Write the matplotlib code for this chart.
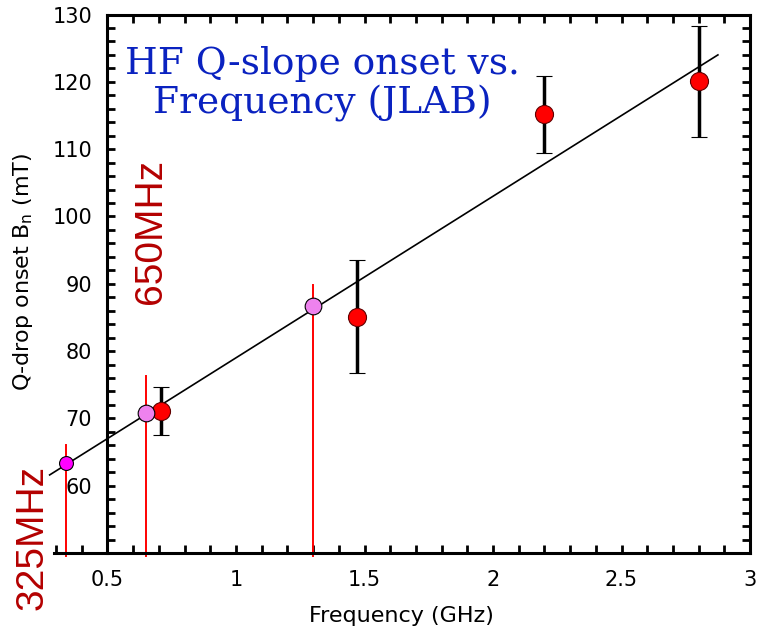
import numpy as np
import matplotlib
matplotlib.use('Agg')
import matplotlib.pyplot as plt
from matplotlib.ticker import MultipleLocator, FixedLocator

# JLAB data points (GHz, mT) with error bars
jlab_freq = [0.71, 1.47, 2.2, 2.8]
jlab_onset = [71.1, 85.1, 115.2, 120.1]
jlab_err_low = [3.6, 8.3, 5.8, 8.3]
jlab_err_high = [3.6, 8.4, 5.7, 8.2]

# projected points on the fit line
proj_freq = [0.65, 1.3]
proj_onset = [70.8, 86.7]
low_freq = [0.34]
low_onset = [63.3]

# vertical markers for the cavity frequencies
marker_freq = [0.34, 0.65, 1.3]
marker_top = [66.0, 76.3, 89.8]

# linear fit
fit_slope = 24.0
fit_intercept = 55.0
fit_range = [0.275, 2.875]

out_file_name = 'out.png'


def plot_graph():
    fig = plt.figure(figsize=(7.57, 6.31), dpi=100)
    ax = fig.add_axes([0.0639, 0.1236, 0.9269, 0.8534])

    ax.set_xlim(0.27, 3.0)
    ax.set_ylim(50, 130)

    # red vertical lines
    for f, top in zip(marker_freq, marker_top):
        ax.plot([f, f], [49.5, top], color='#ff0000', lw=1.4, zorder=2, clip_on=False)

    # fit line
    fx = np.array(fit_range)
    ax.plot(fx, fit_slope * fx + fit_intercept, color='black', lw=1.2, zorder=3, clip_on=False)

    # measured points
    ax.errorbar(jlab_freq, jlab_onset, yerr=[jlab_err_low, jlab_err_high], fmt='o',
                color='black', ecolor='black', elinewidth=2.5, capsize=6, capthick=2.5,
                markersize=13, markerfacecolor='#ff0000', markeredgecolor='#600000',
                markeredgewidth=0.8, zorder=4)

    ax.plot(proj_freq, proj_onset, 'o', markersize=12, markerfacecolor='#ee82ee',
            markeredgecolor='black', markeredgewidth=0.8, zorder=5)
    ax.plot(low_freq, low_onset, 'o', markersize=10, markerfacecolor='#ff00ff',
            markeredgecolor='black', markeredgewidth=0.8, zorder=5, clip_on=False)

    # spines
    for s in ax.spines.values():
        s.set_linewidth(2.2)
    ax.spines['left'].set_position(('data', 0.5))
    ax.spines['top'].set_bounds(0.5, 3.0)
    ax.spines['bottom'].set_bounds(0.29, 3.0)

    # ticks
    ax.xaxis.set_major_locator(FixedLocator([0.5, 1.0, 1.5, 2.0, 2.5, 3.0]))
    ax.xaxis.set_minor_locator(MultipleLocator(0.1))
    ax.set_xticklabels(['0.5', '1', '1.5', '2', '2.5', '3'])
    ax.yaxis.set_major_locator(FixedLocator(range(60, 131, 10)))
    ax.yaxis.set_minor_locator(MultipleLocator(2))
    ax.tick_params(which='both', direction='in', length=6, width=2, top=False, right=True)
    ax.tick_params(axis='x', which='major', pad=12, labelsize=15)
    ax.tick_params(axis='y', which='major', pad=11, labelsize=15)

    secax = ax.secondary_xaxis('top')
    secax.xaxis.set_major_locator(FixedLocator(np.arange(0.5, 3.01, 0.1)))
    secax.tick_params(direction='in', length=6, width=2, labeltop=False)
    secax.spines['top'].set_visible(False)

    ax.set_xlabel('Frequency (GHz)', fontsize=16)
    ax.xaxis.set_label_coords(0.503, -0.098)
    ax.set_ylabel(r'Q-drop onset B$_\mathregular{n}$ (mT)', fontsize=16)
    ax.yaxis.set_label_coords(-0.019, 0.522)

    # title inside the plot
    ax.text(0.39, 0.871, 'HF Q-slope onset vs.\nFrequency (JLAB)', transform=ax.transAxes,
            ha='center', va='center', multialignment='center', linespacing=1.1,
            fontsize=27, family='DejaVu Serif', color='#0a22c0')

    # frequency labels
    fig.text(33 / 757, 1 - 538 / 631, '325MHz', rotation=90, ha='center', va='center',
             fontsize=28, family='Liberation Sans', color='#b40000')
    fig.text(151 / 757, 1 - 231 / 631, '650MHz', rotation=90, ha='center', va='center',
             fontsize=28, family='Liberation Sans', color='#b40000')

    fig.savefig(out_file_name, dpi=100)
    plt.close(fig)


if __name__ == "__main__":
    plot_graph()
